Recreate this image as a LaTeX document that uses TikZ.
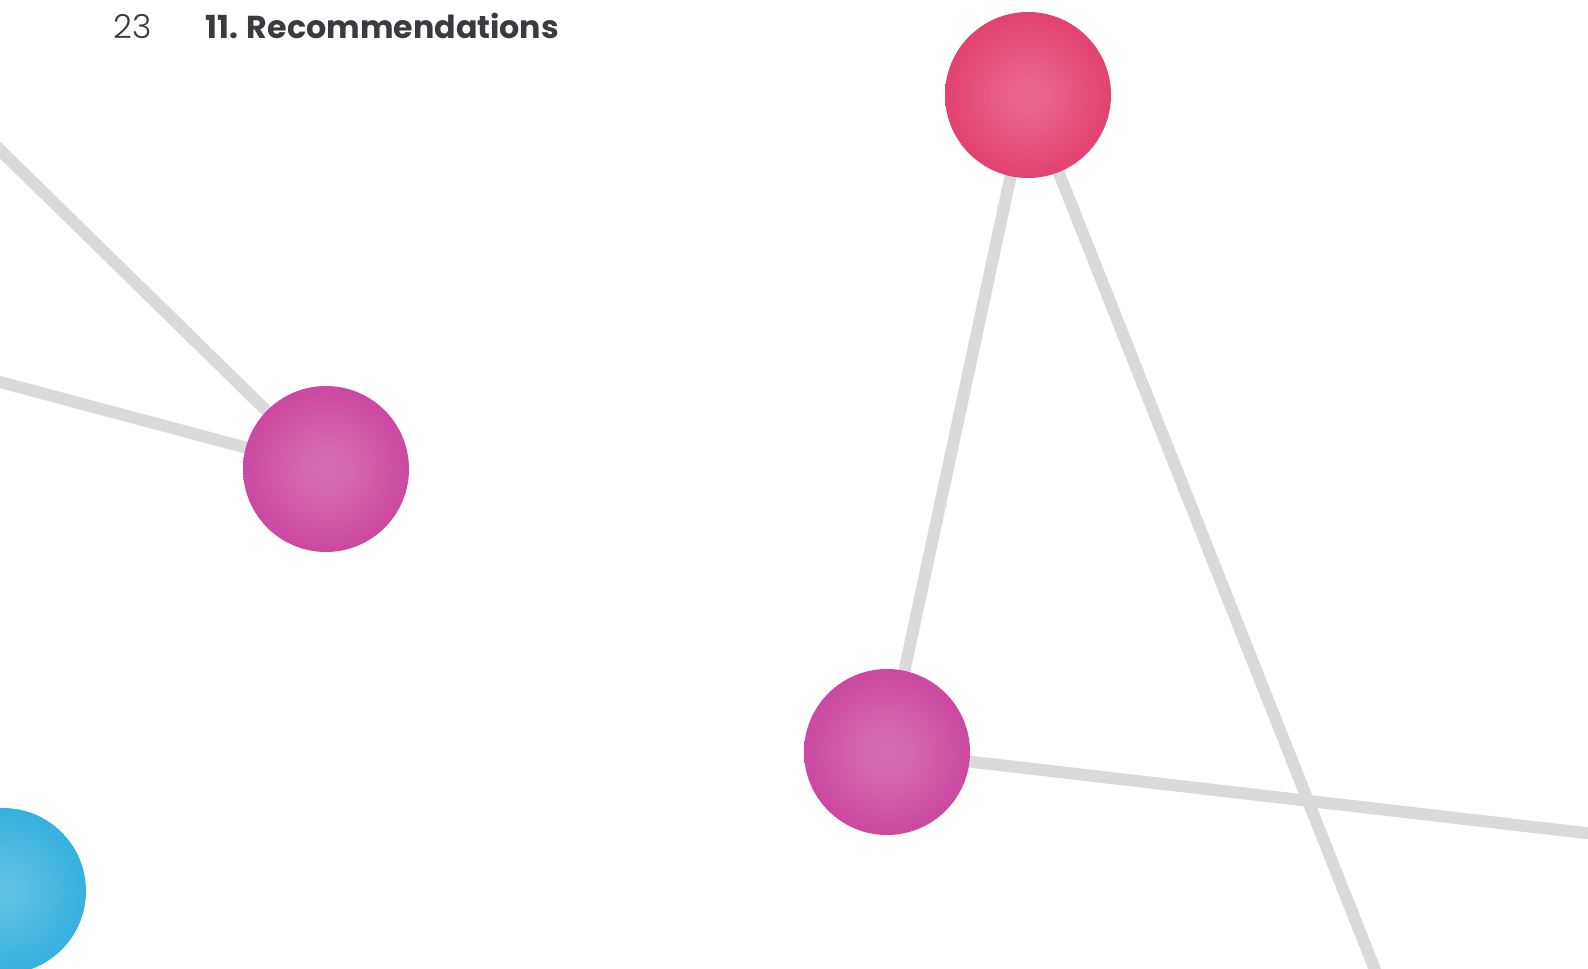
\documentclass[tikz,border=0pt]{standalone}
\usepackage{fontspec}
\setmainfont{Poppins}
\newfontfamily\numfont{Poppins Light}
\definecolor{linkgray}{HTML}{DADADA}
\definecolor{headtext}{HTML}{3A3A40}
\definecolor{redin}{HTML}{E8668B}
\definecolor{redout}{HTML}{DF1650}
\definecolor{magin}{HTML}{D46CB2}
\definecolor{magout}{HTML}{C21D8D}
\definecolor{bluein}{HTML}{5EC1E5}
\definecolor{blueout}{HTML}{069ED6}
\pgfdeclareradialshading{redball}{\pgfpoint{0bp}{0bp}}{color(0bp)=(redin); color(4bp)=(redin); color(50bp)=(redout)}
\pgfdeclareradialshading{magball}{\pgfpoint{0bp}{0bp}}{color(0bp)=(magin); color(4bp)=(magin); color(50bp)=(magout)}
\pgfdeclareradialshading{blueball}{\pgfpoint{0bp}{0bp}}{color(0bp)=(bluein); color(4bp)=(bluein); color(50bp)=(blueout)}
\begin{document}
\begin{tikzpicture}[x=1pt,y=-1pt,
  ball/.style={circle, minimum size=166pt, inner sep=0pt},
  link/.style={draw=linkgray, line width=12pt},
  headnum/.style={anchor=base west, inner sep=0pt, text=headtext, font=\numfont\fontsize{33}{36}\selectfont},
  headtitle/.style={anchor=base west, inner sep=0pt, text=headtext, font=\bfseries\fontsize{31.7}{36}\selectfont}]
\useasboundingbox (0,0) rectangle (1588,969);
\clip (0,0) rectangle (1588,969);

% sphere positions
\coordinate (pR) at (1028,95);
\coordinate (pML) at (326,469);
\coordinate (pMR) at (887,752);
\coordinate (pB) at (3,891);

% free ends of the links, beyond the page edge
\coordinate (eTL) at (-30,120.6);
\coordinate (eL) at (-30,374);
\coordinate (eBot) at (1387,1000);
\coordinate (eRt) at (1620,837);

% links
\draw[link] (pML) -- (eTL);
\draw[link] (pML) -- (eL);
\draw[link] (pR) -- (pMR);
\draw[link] (pR) -- (eBot);
\draw[link] (pMR) -- (eRt);

% spheres
\node[ball, shading=redball] (red) at (pR) {};
\node[ball, shading=magball] (magL) at (pML) {};
\node[ball, shading=magball] (magR) at (pMR) {};
\node[ball, shading=blueball] (blue) at (pB) {};

% running head
\node[headnum] (pagenum) at (113,38.5) {23};
\node[headtitle] (title) at (205,38.5) {11. Recommendations};
\end{tikzpicture}
\end{document}
